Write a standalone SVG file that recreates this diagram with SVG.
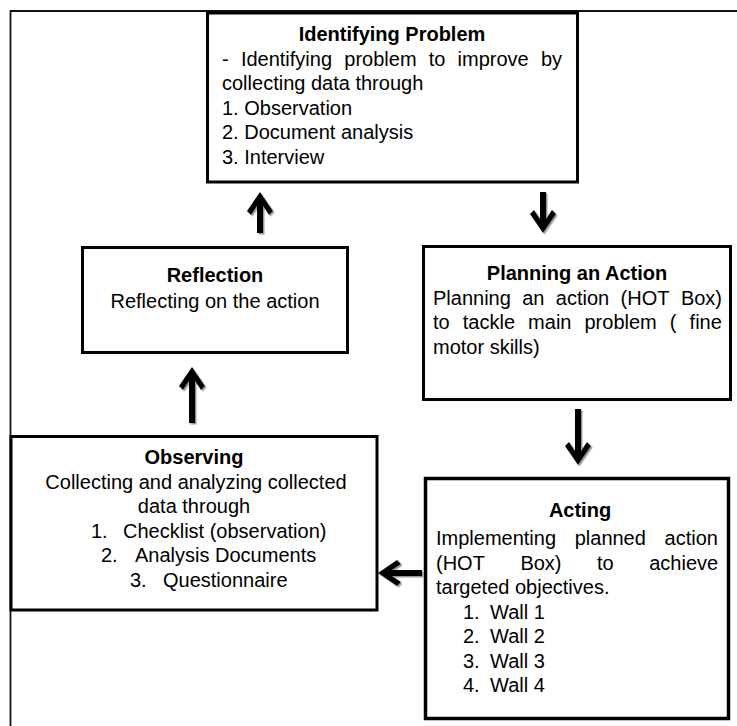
<svg xmlns="http://www.w3.org/2000/svg" xmlns:xlink="http://www.w3.org/1999/xlink" width="737" height="726" viewBox="0 0 737 726">
  <style>
    text { font-family: "Liberation Sans", Arial, sans-serif; font-size: 20px; fill: #000; }
    .title { font-weight: bold; text-anchor: middle; }
    .mid { text-anchor: middle; }
    .box { fill: #fff; stroke: #000; stroke-width: 3; }
    .frame { fill: none; stroke: #111; stroke-width: 1.8; }
    .arrow { fill: #000; }
  </style>
  <defs>
    <filter id="shade" x="-50%" y="-50%" width="200%" height="200%">
      <feDropShadow dx="1.5" dy="1.5" stdDeviation="0.6" flood-color="#8a8a8a" flood-opacity="0.9"/>
    </filter>
    <!-- arrowhead pointing up, tip at origin -->
    <path id="head" d="M0,0 L13,19 L9,23 L3,14 L-3,14 L-9,23 L-13,19 Z"/>
  </defs>

  <rect width="737" height="726" fill="#fff"/>

  <!-- page frame -->
  <path class="frame" d="M10.5,726 V11 H737"/>

  <g id="identifying-problem">
    <rect class="box" x="207.5" y="13" width="370" height="169"/>
    <text class="title" x="392" y="41">Identifying Problem</text>
    <text y="65.5"><tspan x="222">-</tspan><tspan x="240.9">Identifying</tspan><tspan x="344.3">problem</tspan><tspan x="428.7">to</tspan><tspan x="457.6">improve</tspan><tspan x="540.9">by</tspan></text>
    <text x="222" y="90">collecting data through</text>
    <text x="222" y="114.5">1. Observation</text>
    <text x="222" y="139">2. Document analysis</text>
    <text x="222" y="163.5">3. Interview</text>
  </g>

  <g id="reflection">
    <rect class="box" x="82.5" y="247.5" width="265" height="105"/>
    <text class="title" x="215" y="282">Reflection</text>
    <text class="mid" x="215" y="307.5">Reflecting on the action</text>
  </g>

  <g id="planning">
    <rect class="box" x="423.5" y="246.5" width="307" height="153"/>
    <text class="title" x="577" y="280">Planning an Action</text>
    <text y="304.5"><tspan x="433">Planning</tspan><tspan x="522.2">an</tspan><tspan x="555.8">action</tspan><tspan x="620.6">(HOT</tspan><tspan x="680.9">Box)</tspan></text>
    <text y="329"><tspan x="433">to</tspan><tspan x="462.8">tackle</tspan><tspan x="528.1">main</tspan><tspan x="584.5">problem</tspan><tspan x="669.8">(</tspan><tspan x="689.6">fine</tspan></text>
    <text x="433" y="353.5">motor skills)</text>
  </g>

  <g id="observing">
    <rect class="box" x="11" y="436.5" width="366" height="173.5"/>
    <text class="title" x="194" y="464">Observing</text>
    <text class="mid" x="196" y="488.5">Collecting and analyzing collected</text>
    <text class="mid" x="194" y="513">data through</text>
    <text y="537.5"><tspan x="91">1.</tspan><tspan x="123">Checklist (observation)</tspan></text>
    <text y="562"><tspan x="101">2.</tspan><tspan x="135">Analysis Documents</tspan></text>
    <text y="586.5"><tspan x="130">3.</tspan><tspan x="163">Questionnaire</tspan></text>
  </g>

  <g id="acting">
    <rect class="box" x="425.5" y="478.5" width="303" height="240" style="stroke-width:3.5"/>
    <text class="title" x="580" y="517">Acting</text>
    <text y="545"><tspan x="436">Implementing</tspan><tspan x="574.7">planned</tspan><tspan x="664.6">action</tspan></text>
    <text y="569.5"><tspan x="436">(HOT</tspan><tspan x="520.4">Box)</tspan><tspan x="597">to</tspan><tspan x="649.2">achieve</tspan></text>
    <text x="436" y="594">targeted objectives.</text>
    <text y="618.5"><tspan x="463">1.</tspan><tspan x="490">Wall 1</tspan></text>
    <text y="643"><tspan x="463">2.</tspan><tspan x="490">Wall 2</tspan></text>
    <text y="667.5"><tspan x="463">3.</tspan><tspan x="490">Wall 3</tspan></text>
    <text y="692"><tspan x="463">4.</tspan><tspan x="490">Wall 4</tspan></text>
  </g>

  <g id="connectors" class="arrow" filter="url(#shade)">
    <!-- Reflection to Identifying Problem -->
    <g transform="translate(260,192)"><use xlink:href="#head"/><rect x="-3" y="13" width="6" height="28"/></g>
    <!-- Identifying Problem to Planning -->
    <g transform="translate(543,233) rotate(180)"><use xlink:href="#head"/><rect x="-3" y="13" width="6" height="28"/></g>
    <!-- Planning to Acting -->
    <g transform="translate(578,465) rotate(180)"><use xlink:href="#head"/><rect x="-3" y="13" width="6" height="43"/></g>
    <!-- Acting to Observing -->
    <g transform="translate(378,573) rotate(-90)"><use xlink:href="#head"/><rect x="-3" y="13" width="6" height="31"/></g>
    <!-- Observing to Reflection -->
    <g transform="translate(192,367)"><use xlink:href="#head"/><rect x="-3" y="13" width="6" height="43"/></g>
  </g>
</svg>
